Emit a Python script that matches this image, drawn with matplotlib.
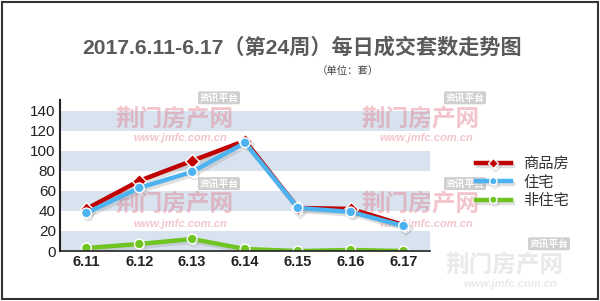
import matplotlib as mpl
mpl.use('Agg')
import matplotlib.pyplot as plt  # noqa
import matplotlib.patheffects as pe  # noqa

plt.rcParams['font.family'] = ['Liberation Sans', 'Noto Sans CJK SC', 'DejaVu Sans']

days = ['6.11', '6.12', '6.13', '6.14', '6.15', '6.16', '6.17']
commercial = [42, 70, 90, 110, 43, 42, 26]
residential = [38, 63, 79, 108, 43, 39, 25]
non_residential = [3, 7, 12, 2, 0, 1, 0]
series_names = ['商品房', '住宅', '非住宅']

fig = plt.figure(figsize=(6, 3.01), dpi=100)
fig.patch.set_facecolor('white')
ax = fig.add_axes([0.1, 0.166, 0.6167, 0.503])
x = list(range(len(days)))

for lo in [0, 40, 80, 120]:
    ax.axhspan(lo, lo + 20, color='#d9e3ef', zorder=0, lw=0)

# watermarks (site logo text)
marks = [(0.29, 0.605, '#e07080'), (0.70, 0.605, '#e07080'),
         (0.29, 0.32, '#e07080'), (0.70, 0.32, '#e07080'),
         (0.84, 0.12, '#c8c8c8')]
for wx, wy, wc in marks:
    ax.text(wx, wy, '荆门房产网', transform=fig.transFigure, ha='center',
            va='center', fontsize=17, fontweight='bold', style='italic',
            color=wc, alpha=0.4, zorder=1, family=['Noto Sans CJK SC'])
    ax.text(wx + 0.01, wy - 0.065, 'www.jmfc.com.cn', transform=fig.transFigure,
            ha='center', va='center', fontsize=8, fontweight='bold',
            style='italic', color=wc, alpha=0.4, zorder=1)
    ax.text(wx + 0.075, wy + 0.07, '资讯平台', transform=fig.transFigure,
            ha='center', va='center', fontsize=7, fontweight='bold',
            color='white', zorder=1, family=['Noto Sans CJK SC'],
            bbox=dict(boxstyle='round,pad=0.15', fc='#c0c0c0', ec='none',
                      alpha=0.75))

shadow = [pe.SimpleLineShadow(offset=(1.5, -2), shadow_color='#999999', alpha=0.3),
          pe.Normal()]
ax.plot(x, commercial, color='#c00000', lw=3.2, marker='D', ms=7,
        mec='white', mew=1, label=series_names[0], zorder=4,
        path_effects=shadow)
ax.plot(x, residential, color='#4db3f0', lw=3.2, marker='o', ms=7,
        mec='white', mew=1, label=series_names[1], zorder=5,
        path_effects=shadow)
ax.plot(x, non_residential, color='#6fc422', lw=3.2, marker='o', ms=7,
        mec='white', mew=1, label=series_names[2], zorder=5,
        path_effects=shadow)

ax.set_xlim(-0.5, 6.5)
ax.set_ylim(0, 151)
ax.set_yticks(range(0, 141, 20))
ax.set_xticks(x)
ax.set_xticklabels(days, fontweight='bold', fontsize=10.5, color='#222222')
ax.tick_params(axis='y', labelsize=11, colors='#222222', length=0, pad=3)
ax.tick_params(axis='x', length=0, pad=3)
for side in ['top', 'right']:
    ax.spines[side].set_visible(False)
ax.spines['left'].set_color('#222222')
ax.spines['bottom'].set_color('#222222')
ax.spines['left'].set_linewidth(1.5)
ax.spines['bottom'].set_linewidth(1.2)
ax.spines['left'].set_zorder(6)
ax.spines['bottom'].set_zorder(6)
ax.set_facecolor('white')

leg = fig.legend(*ax.get_legend_handles_labels(), loc='center left',
                 bbox_to_anchor=(0.77, 0.395), frameon=False,
                 prop={'family': ['Noto Sans CJK SC'], 'size': 11},
                 handlelength=2.3, handletextpad=0.8, labelspacing=0.1,
                 markerscale=0.75)
for t in leg.get_texts():
    t.set_color('#333333')

fig.text(0.503, 0.843, '2017.6.11-6.17（第24周）每日成交套数走势图',
         ha='center', va='center', fontsize=15.2, fontweight='bold',
         color='#5a5a5a', family=['Liberation Sans', 'Noto Sans CJK SC'])
fig.text(0.58, 0.764, '（单位：套）', ha='center', va='center', fontsize=7.5,
         color='#444444', family=['Noto Sans CJK SC'])

# frame around the picture
fig.add_artist(plt.Rectangle((0.003, 0.005), 0.994, 0.99, transform=fig.transFigure,
                             fill=False, edgecolor='#333333', lw=1.5))

fig.savefig('out.png', dpi=100)
